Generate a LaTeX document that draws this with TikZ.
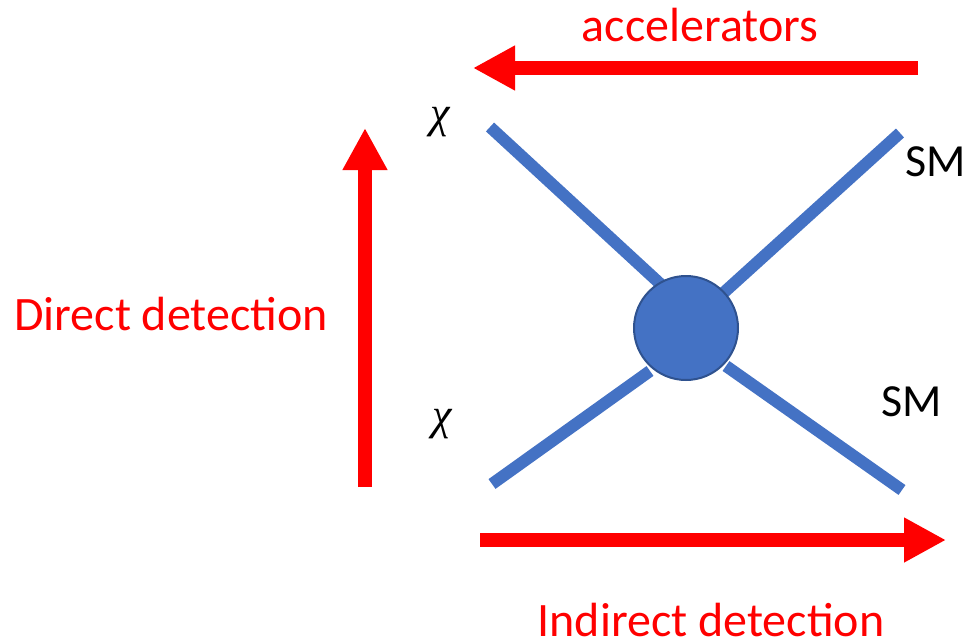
\documentclass[tikz,border=0pt]{standalone}
\usepackage{fontspec}
\setmainfont{Carlito}
\newfontfamily\greekfont{Liberation Serif}
\usetikzlibrary{arrows.meta}
\definecolor{prop}{HTML}{4472C4}
\definecolor{propedge}{HTML}{2F528F}
\definecolor{arrowred}{HTML}{FF0000}
\tikzset{
  leg/.style={draw=prop, line width=12pt},
  blob/.style={circle, fill=prop, draw=propedge, line width=2pt, minimum size=104pt, inner sep=0pt},
  bigarrow/.style={draw=arrowred, line width=14pt, -{Triangle[length=42pt,width=42pt]}},
  redlabel/.style={text=arrowred, font=\fontsize{48}{52}\selectfont, inner sep=0pt},
  partlabel/.style={font=\fontsize{46}{50}\selectfont, inner sep=0pt},
  chilabel/.style={font=\greekfont\itshape\fontsize{44}{48}\selectfont, inner sep=0pt},
}
\begin{document}
\begin{tikzpicture}[x=1pt,y=-1pt]
\useasboundingbox (0,0) rectangle (972,640);
% external legs, ending at the vertex blob
\coordinate (tl) at (490,127);
\coordinate (bl) at (492,484);
\coordinate (tr) at (900,133);
\coordinate (br) at (902,490);
\coordinate (tlend) at (668,291);
\coordinate (blend) at (650,371);
\coordinate (trend) at (720,296);
\coordinate (brend) at (726,366);
\draw[leg] (tl) -- (tlend);
\draw[leg] (tr) -- (trend);
\draw[leg] (bl) -- (blend);
\draw[leg] (br) -- (brend);
% vertex blob
\node[blob] (v) at (686,328) {};
% particle labels
\node[chilabel] (chi1) at (440,122) {χ};
\node[chilabel] (chi2) at (442,424) {χ};
\node[partlabel] (sm1) at (936,162) {SM};
\node[partlabel] (sm2) at (912,402) {SM};
% detection arrows
\coordinate (accA) at (918,68);
\coordinate (accB) at (473,68);
\coordinate (ddA) at (365,487);
\coordinate (ddB) at (365,128);
\coordinate (idA) at (480,540);
\coordinate (idB) at (946,540);
\draw[bigarrow] (accA) -- (accB);
\draw[bigarrow] (ddA) -- (ddB);
\draw[bigarrow] (idA) -- (idB);
\node[redlabel] (acc) at (700,25) {accelerators};
\node[redlabel] (dd) at (171,314) {Direct detection};
\node[redlabel] (id) at (711,620) {Indirect detection};
\end{tikzpicture}
\end{document}
